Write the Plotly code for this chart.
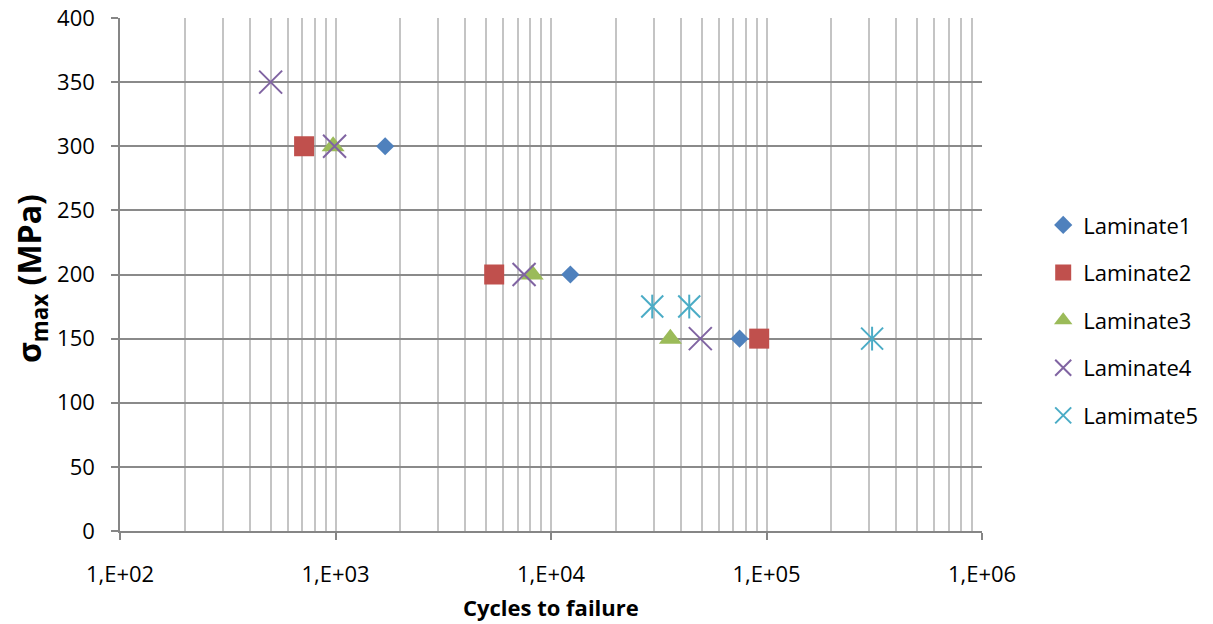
import plotly.graph_objects as go

# ---- data ----
names = ["Laminate1", "Laminate2", "Laminate3", "Laminate4", "Lamimate5"]
l1_x = [1700, 12300, 75000]
l1_y = [300, 200, 150]
l2_x = [715, 5450, 92500]
l2_y = [300, 200, 150]
l3_x = [975, 8180, 35800]
l3_y = [300, 200, 150]
l4_x = [500, 990, 7500, 49300]
l4_y = [350, 300, 200, 150]
l5_x = [29500, 43800, 309000]
l5_y = [175, 175, 150]

x_tick_vals = [1e2, 1e3, 1e4, 1e5, 1e6]
x_tick_text = ["1,E+02", "1,E+03", "1,E+04", "1,E+05", "1,E+06"]
x_minor_vals = [m * d for d in [1e2, 1e3, 1e4, 1e5] for m in range(2, 10)]

colors = ["#4F81BD", "#C0504D", "#9BBB59", "#8064A2", "#4BACC6"]

FONT = "Open Sans"
fig = go.Figure()

def add(x, y, name, color, symbol, size, lw=0, show=True, group=None):
    fig.add_trace(go.Scatter(
        x=x, y=y, name=name, mode="markers", showlegend=show,
        legendgroup=group or name,
        marker=dict(symbol=symbol, size=size, color=color,
                    line=dict(color=color, width=lw)),
    ))

add(l1_x, l1_y, names[0], colors[0], "diamond", 14)
add(l2_x, l2_y, names[1], colors[1], "square", 20)
add(l3_x, l3_y, names[2], colors[2], "triangle-up", 20)
add(l4_x, l4_y, names[3], colors[3], "x-thin", 23, lw=2)
add(l5_x, l5_y, names[4], colors[4], "x-thin", 22, lw=2)
add(l5_x, l5_y, names[4], colors[4], "line-ns-open", 17, lw=2, show=False, group=names[4])

fig.update_layout(
    width=1213, height=624,
    margin=dict(l=120, r=231, t=18, b=93, autoexpand=False),
    paper_bgcolor="white", plot_bgcolor="white",
    font=dict(family=FONT, size=22, color="#000000"),
    legend=dict(x=1.071, xanchor="left", y=0.411, yanchor="middle",
                font=dict(family=FONT, size=22, color="#000000"),
                traceorder="grouped", tracegroupgap=16,
                bgcolor="rgba(0,0,0,0)"),
    showlegend=True,
)

fig.update_xaxes(
    type="log", range=[2, 6], automargin=False,
    tickmode="array", tickvals=x_tick_vals, ticktext=x_tick_text,
    ticks="outside", ticklen=7, tickcolor="#868686", tickwidth=1.5,
    ticklabelstandoff=16,
    showline=True, linecolor="#868686", linewidth=1.5,
    showgrid=True, gridcolor="#c4c4c4", gridwidth=1.5,
    minor=dict(tickmode="array", tickvals=x_minor_vals, showgrid=True,
               gridcolor="#c4c4c4", gridwidth=1.5, ticks=""),
    tickfont=dict(family=FONT, size=22, color="#000000"),
    zeroline=False,
)
fig.update_yaxes(
    range=[0, 400], dtick=50, tick0=0, automargin=False,
    ticks="outside", ticklen=7, tickcolor="#868686", tickwidth=1.5,
    ticklabelstandoff=12,
    showline=True, linecolor="#868686", linewidth=1.5,
    showgrid=True, gridcolor="#8a8a8a", gridwidth=1.5,
    tickfont=dict(family=FONT, size=22, color="#000000"),
    zeroline=False,
)

fig.add_annotation(
    text="<b>σ<sub>max</sub> (MPa)</b>", textangle=-90,
    xref="paper", yref="paper", x=0, y=0.491, xanchor="center", yanchor="middle",
    xshift=-89, showarrow=False, font=dict(family=FONT, size=32, color="#000000"),
)
fig.add_annotation(
    text="<b>Cycles to failure</b>",
    xref="paper", yref="paper", x=0.5, y=0, xanchor="center", yanchor="middle",
    yshift=-76, showarrow=False, font=dict(family=FONT, size=22, color="#000000"),
)

fig.write_html(
    "out.html",
    config={"displayModeBar": False},
    post_script="document.body.style.margin='0';document.body.style.overflow='hidden';",
)
